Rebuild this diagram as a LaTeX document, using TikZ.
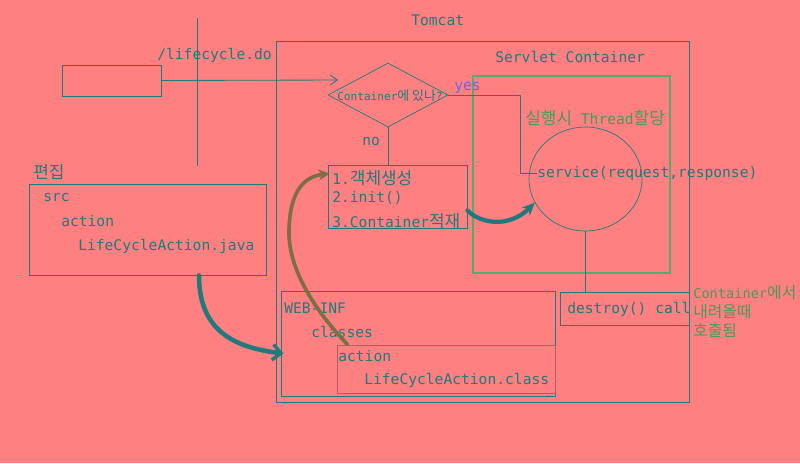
\documentclass[tikz,border=0pt]{standalone}
\usepackage{fontspec}
\setmainfont{DejaVu Sans Mono}
\newfontfamily\kr[Scale=1.16]{Noto Sans CJK KR}
\usepackage{tikz}
\usetikzlibrary{positioning}
\usetikzlibrary{shapes.geometric}
\usetikzlibrary{arrows.meta, calc}
\usepackage{xcolor}
\definecolor{mysalmon}{RGB}{255, 128, 128}
\definecolor{myteal}{RGB}{30, 122, 125}
\definecolor{mygreen}{RGB}{85, 170, 110}
\definecolor{mygreentext}{RGB}{70, 155, 90}
\definecolor{myviolet}{RGB}{110, 100, 230}
\definecolor{myolive}{RGB}{125, 110, 70}
\definecolor{mydullred}{RGB}{175, 95, 95}

\begin{document}
\begin{tikzpicture}[
            x=0.025cm, y=-0.025cm,
            font=\fontsize{10.4}{12}\selectfont,
            box/.style={
                rectangle,
                draw=#1,
                line width=0.6pt,
                inner sep=0pt
            },
            box/.default=myteal,
            txt/.style={anchor=west, inner sep=0pt, text=myteal},
            note/.style={anchor=west, inner sep=0pt, text=mygreentext},
            link/.style={draw=myteal, line width=0.6pt},
            fat/.style={line width=#1, line cap=round},
            fat/.default=3pt
        ]

            % Background
            \fill[mysalmon] (0,0) rectangle (800,463);
            \draw[myteal, line width=0.6pt] (197,18) -- (197,166);

            % Nodes
            \node[box, minimum width=2.475cm, minimum height=0.775cm] (client) at (111.5,80.5) {};
            \node[box, minimum width=10.325cm, minimum height=9.025cm] (tomcat) at (482.5,221.5) {};
            \node[box=mygreen, line width=2pt, minimum width=4.925cm, minimum height=4.925cm] (servlet) at (571.5,174.5) {};
            \node[diamond, draw=myteal, line width=0.5pt, inner sep=0pt,
                  minimum width=3cm, minimum height=1.6cm] (dia) at (388,95) {};
            \node[box, minimum width=3.475cm, minimum height=1.575cm] (steps) at (397.5,196.5) {};
            \node[ellipse, draw=myteal, line width=0.5pt, inner sep=0pt,
                  minimum width=2.825cm, minimum height=2.6cm] (circ) at (585.5,179) {};
            \node[box, minimum width=3.225cm, minimum height=0.825cm] (destroy) at (624.5,308.5) {};
            \node[box, minimum width=5.925cm, minimum height=2.275cm] (src) at (147.5,229.5) {};
            \node[box, minimum width=6.85cm, minimum height=2.625cm] (webinf) at (418,343.5) {};
            \node[box=mydullred, minimum width=5.45cm, minimum height=1.2cm] (cls) at (446,369) {};

            % Labels
            \node[txt] (url) at (157,55) {/lifecycle.do};
            \node[txt] (tomcatlbl) at (411,20) {Tomcat};
            \node[txt] (servletlbl) at (495,57) {Servlet Container};
            \node[txt, font=\fontsize{7.9}{9}\selectfont] (question) at (337,96) {Container{\kr 에 있나}?};
            \node[txt, text=myviolet] (yes) at (454,88) {yes};
            \node[note] (thread) at (525,118) {{\kr 실행시} Thread{\kr 할당}};
            \node[txt] (svc) at (537,173) {service(request,response)};
            \node[txt] (no) at (362,141) {no};
            \node[txt] (stepa) at (332,178) {1.{\kr 객체생성}};
            \node[txt] (stepb) at (332,198) {2.init()};
            \node[txt] (stepc) at (332,221) {3.Container{\kr 적재}};
            \node[txt] (destroylbl) at (567,309) {destroy() call};
            \node[note, font=\fontsize{9.7}{11}\selectfont] (notea) at (693,293) {Container{\kr 에서}};
            \node[note, font=\fontsize{9.7}{11}\selectfont] (noteb) at (693,312) {\kr 내려올때};
            \node[note, font=\fontsize{9.7}{11}\selectfont] (notec) at (693,330) {\kr 호출됨};
            \node[txt] (edit) at (33,172) {\kr 편집};
            \node[txt] (srcdir) at (43,197) {src};
            \node[txt] (srcpkg) at (61,221) {action};
            \node[txt] (srcfile) at (78,246) {LifeCycleAction.java};
            \node[txt] (webdir) at (284,308) {WEB-INF};
            \node[txt] (clsdir) at (311,332) {classes};
            \node[txt] (clspkg) at (338,356) {action};
            \node[txt] (clsfile) at (364,380) {LifeCycleAction.class};

            % Arrows
            \coordinate (reqend) at (338,80);
            \draw[link, -{Straight Barb[length=5pt, width=7pt]}] (client.east) -- (reqend);
            \draw[link] (dia.south) -- (dia.south |- steps.north);
            \draw[link] (dia.east) -- ++(72,0) |- (svc.west);
            \draw[link] (circ.south) -- (circ.south |- destroy.north);
            \draw[myteal, fat=3.2pt, -{Straight Barb[length=6pt, width=11pt, line width=2.4pt]}]
                ($(src.south)+(51.5,0)$) .. controls +(0,55) and +(-50,-6) .. ($(webinf.west)+(3,10)$);
            \draw[myteal, fat=3pt, -{Stealth[length=9pt, width=8pt]}]
                ($(steps.south east)+(0,-18)$) .. controls +(14,14) and +(-25,25) .. (circ.205);
            \draw[myolive, fat=2.6pt, -{Stealth[length=8pt, width=8pt]}]
                ($(cls.north west)+(11,0)$) .. controls +(-38,-40) and +(-1,35) .. (289,230)
                .. controls +(1,-40) and +(-25,3) .. ($(steps.north west)+(2,9)$);
        \end{tikzpicture}
\end{document}
